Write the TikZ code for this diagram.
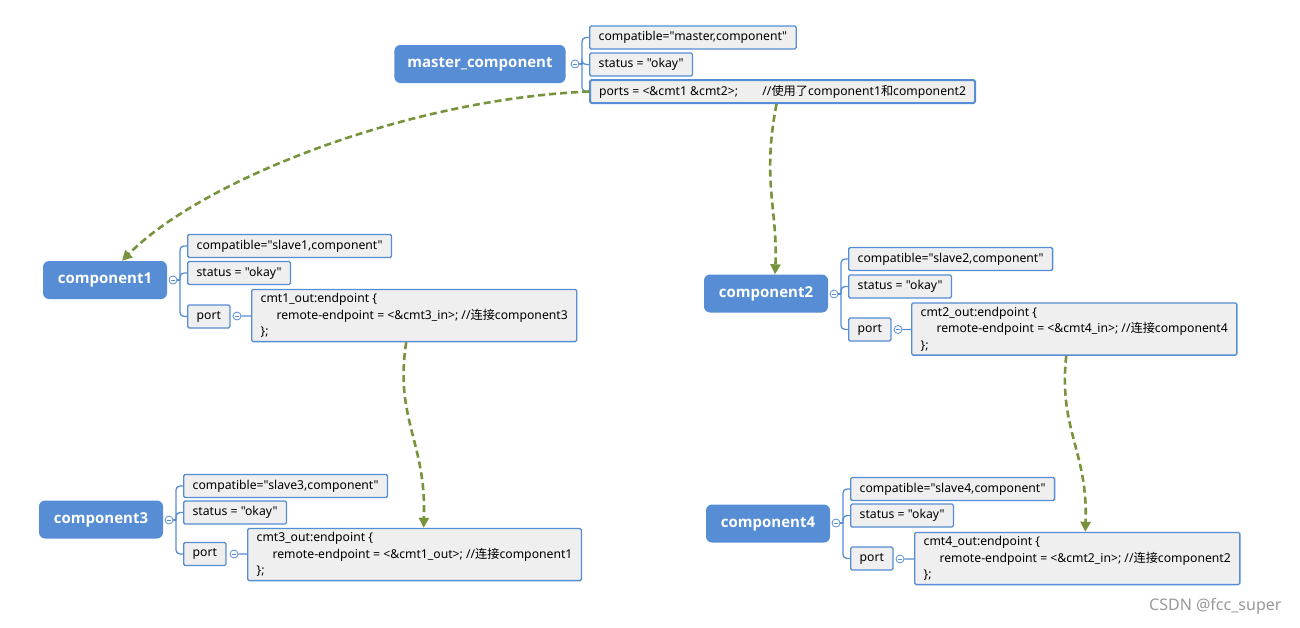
\documentclass[tikz,border=0pt]{standalone}
\usepackage{fontspec}
\setmainfont{Noto Sans}[Ligatures=TeXOff]
\newfontfamily\headfont{Open Sans}
\newfontfamily\cjk{Noto Sans CJK SC}
\usetikzlibrary{arrows.meta}
\definecolor{nodeblue}{RGB}{86,141,212}
\definecolor{boxgray}{RGB}{239,239,239}
\definecolor{linkgreen}{RGB}{119,147,60}

\begin{document}
\begin{tikzpicture}[x=1pt,y=-1pt,
  comp/.style={rectangle, rounded corners=6pt, fill=nodeblue, text=white, font=\fontsize{15}{18}\headfont\bfseries, minimum height=38pt, minimum width=124pt, inner xsep=13pt},
  attr/.style={rectangle, rounded corners=1.5pt, draw=nodeblue, line width=1.3pt, fill=boxgray, font=\fontsize{12.2}{16.5}\selectfont, minimum height=23pt, inner xsep=9pt, anchor=west},
  code/.style={attr, align=left, inner ysep=4pt},
  fold/.style={circle, draw=nodeblue, fill=white, line width=0.8pt, minimum size=8pt, inner sep=0pt, path picture={\draw [nodeblue, line width=0.8pt] ([xshift=-2pt]path picture bounding box.center) -- ([xshift=2pt]path picture bounding box.center);}},
  tree/.style={draw=nodeblue, line width=1.3pt, rounded corners=4pt},
  link/.style={draw=linkgreen, line width=2.6pt, dash pattern=on 7pt off 4pt, -{Triangle[length=10pt,width=10pt]}}]
\fill [white] (0,0) rectangle (1300,627);
\useasboundingbox (0,0) rectangle (1300,627);

% master
\node [comp] (master) at (480,64) {master\_component};
\node [fold] (mfold) at (575,64) {};
\coordinate (mj) at (582,64);
\node [attr] (mcompat) at (589,37.5) {compatible="master,component"};
\node [attr] (mstatus) at (589,64.5) {status = "okay"};
\node [attr, line width=2pt] (mports) at (589,91.5) {ports = <\&cmt1 \&cmt2>;\hspace{2em}//{\cjk 使用了}component1{\cjk 和}component2};
\draw [tree] (mfold) -- (mj);
\foreach \b in {mcompat,mstatus,mports} \draw [tree] (mj) |- (\b.west);

% component1
\node [comp] (comp1) at (105,280) {component1};
\node [fold] (c1fold) at (173,280) {};
\coordinate (c1j) at (180,280);
\node [attr] (c1compat) at (187,246) {compatible="slave1,component"};
\node [attr] (c1status) at (187,273) {status = "okay"};
\node [attr] (c1port) at (187,316.5) {port};
\node [fold] (c1pfold) at (237,316) {};
\node [code] (c1code) at (251,315.5) {cmt1\_out:endpoint \{\\\hspace{1.3em}remote-endpoint = <\&cmt3\_in>; //{\cjk 连接}component3\\\};};
\draw [tree] (c1fold) -- (c1j);
\foreach \b in {c1compat,c1status,c1port} \draw [tree] (c1j) |- (\b.west);
\draw [tree] (c1pfold) -- (c1code);

% component2
\node [comp] (comp2) at (766,293.5) {component2};
\node [fold] (c2fold) at (834,294) {};
\coordinate (c2j) at (841,294);
\node [attr] (c2compat) at (848,259) {compatible="slave2,component"};
\node [attr] (c2status) at (848,286.5) {status = "okay"};
\node [attr] (c2port) at (848,329.5) {port};
\node [fold] (c2pfold) at (898,329.5) {};
\node [code] (c2code) at (911,329) {cmt2\_out:endpoint \{\\\hspace{1.3em}remote-endpoint = <\&cmt4\_in>; //{\cjk 连接}component4\\\};};
\draw [tree] (c2fold) -- (c2j);
\foreach \b in {c2compat,c2status,c2port} \draw [tree] (c2j) |- (\b.west);
\draw [tree] (c2pfold) -- (c2code);

% component3
\node [comp] (comp3) at (101,519.5) {component3};
\node [fold] (c3fold) at (169,520) {};
\coordinate (c3j) at (176,520);
\node [attr] (c3compat) at (183,486) {compatible="slave3,component"};
\node [attr] (c3status) at (183,512.5) {status = "okay"};
\node [attr] (c3port) at (183,554) {port};
\node [fold] (c3pfold) at (234,554) {};
\node [code] (c3code) at (247,554.5) {cmt3\_out:endpoint \{\\\hspace{1.3em}remote-endpoint = <\&cmt1\_out>; //{\cjk 连接}component1\\\};};
\draw [tree] (c3fold) -- (c3j);
\foreach \b in {c3compat,c3status,c3port} \draw [tree] (c3j) |- (\b.west);
\draw [tree] (c3pfold) -- (c3code);

% component4
\node [comp] (comp4) at (768,523.5) {component4};
\node [fold] (c4fold) at (836,523) {};
\coordinate (c4j) at (843,523);
\node [attr] (c4compat) at (850,489) {compatible="slave4,component"};
\node [attr] (c4status) at (850,515.5) {status = "okay"};
\node [attr] (c4port) at (850,558.5) {port};
\node [fold] (c4pfold) at (900,559) {};
\node [code] (c4code) at (914,558.5) {cmt4\_out:endpoint \{\\\hspace{1.3em}remote-endpoint = <\&cmt2\_in>; //{\cjk 连接}component2\\\};};
\draw [tree] (c4fold) -- (c4j);
\foreach \b in {c4compat,c4status,c4port} \draw [tree] (c4j) |- (\b.west);
\draw [tree] (c4pfold) -- (c4code);

% links
\draw [link] (mports.west) .. controls +(-185,8) and +(78,-79) .. ([xshift=17pt]comp1.north);
\draw [link] ([xshift=-6pt]mports.south) .. controls +(-15,77) and +(3,-64) .. ([xshift=9pt]comp2.north);
\draw [link] ([xshift=-8pt]c1code.south) .. controls +(-12,77) and +(3,-86) .. ([xshift=9pt]c3code.north);
\draw [link] ([xshift=-8pt]c2code.south) .. controls +(-8,74) and +(3,-80) .. ([xshift=8pt]c4code.north);

\node [text=black!40, font=\fontsize{16}{16}\selectfont, anchor=east] (mark) at (1285,606) {CSDN @fcc\_super};
\end{tikzpicture}
\end{document}
